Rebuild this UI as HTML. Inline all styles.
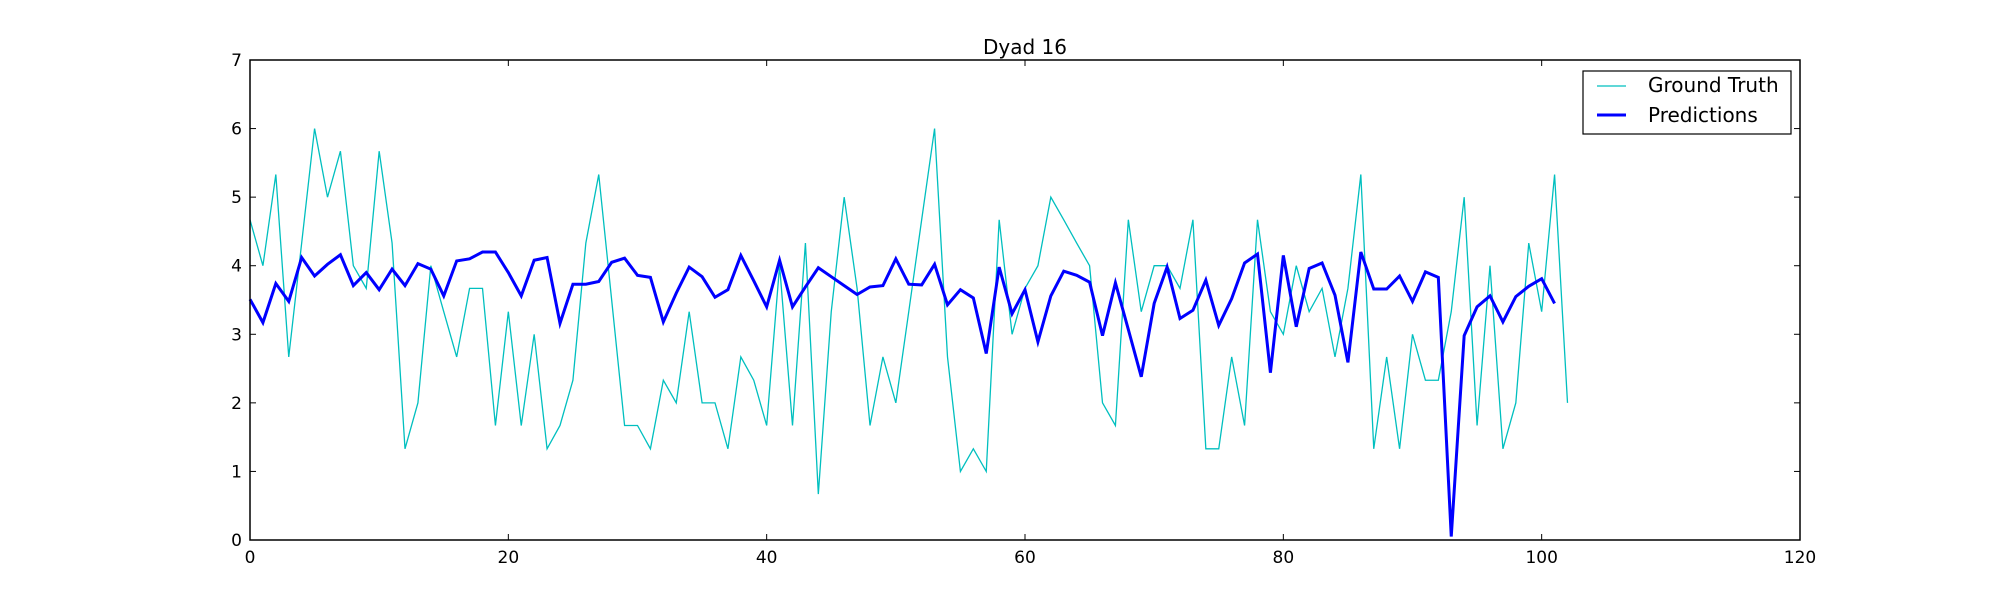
<!DOCTYPE html>
<html><head><meta charset="utf-8"><style>
body{margin:0;background:#fff;}
svg{display:block;font-family:"DejaVu Sans","Liberation Sans",sans-serif;}
</style></head><body>
<svg id="chart" width="2000" height="600" viewBox="0 0 2000 600">
<rect width="2000" height="600" fill="#fff"/>
<text x="1025" y="54" font-size="20" text-anchor="middle">Dyad 16</text>
<g id="ticks"></g>
<g id="series"></g>
<rect x="250" y="60" width="1550" height="480" fill="none" stroke="#000" stroke-width="1.5"/>
<g>
<rect x="1583" y="71" width="208" height="63" fill="#fff" stroke="#000" stroke-width="1.2"/>
<line x1="1597" y1="86" x2="1626" y2="86" stroke="#00bfbf" stroke-width="1.3"/>
<text x="1648" y="92" font-size="20">Ground Truth</text>
<line x1="1597" y1="115" x2="1626" y2="115" stroke="#0000ff" stroke-width="3"/>
<text x="1648" y="122" font-size="20">Predictions</text>
</g>
</svg>
<script>
const groundTruth = [4.67,4.0,5.33,2.67,4.33,6.0,5.0,5.67,4.0,3.67,5.67,4.33,1.33,2.0,4.0,3.33,2.67,3.67,3.67,1.67,3.33,1.67,3.0,1.33,1.67,2.33,4.33,5.33,3.5,1.67,1.67,1.33,2.33,2.0,3.33,2.0,2.0,1.33,2.67,2.33,1.67,4.0,1.67,4.33,0.67,3.33,5.0,3.67,1.67,2.67,2.0,3.33,4.67,6.0,2.67,1.0,1.33,1.0,4.67,3.0,3.67,4.0,5.0,4.67,4.33,4.0,2.0,1.67,4.67,3.33,4.0,4.0,3.67,4.67,1.33,1.33,2.67,1.67,4.67,3.33,3.0,4.0,3.33,3.67,2.67,3.67,5.33,1.33,2.67,1.33,3.0,2.33,2.33,3.33,5.0,1.67,4.0,1.33,2.0,4.33,3.33,5.33,2.0];
const predictions = [3.51,3.17,3.74,3.48,4.12,3.85,4.02,4.16,3.71,3.9,3.65,3.95,3.71,4.03,3.95,3.56,4.07,4.1,4.2,4.2,3.9,3.56,4.08,4.12,3.16,3.73,3.73,3.77,4.05,4.11,3.86,3.83,3.18,3.6,3.98,3.84,3.54,3.65,4.15,3.78,3.4,4.08,3.4,3.69,3.97,3.84,3.71,3.58,3.69,3.71,4.1,3.73,3.72,4.02,3.43,3.65,3.53,2.72,3.98,3.3,3.65,2.89,3.56,3.92,3.86,3.76,2.98,3.75,3.07,2.38,3.45,3.98,3.23,3.35,3.79,3.13,3.52,4.04,4.17,2.44,4.15,3.11,3.96,4.04,3.57,2.59,4.2,3.66,3.66,3.85,3.48,3.91,3.83,0.05,2.98,3.4,3.56,3.18,3.55,3.7,3.81,3.45];
const xTicks = [0,20,40,60,80,100,120];
const yTicks = [0,1,2,3,4,5,6,7];

const X0=250,X1=1800,Y0=540,Y1=60;
function xs(v){return X0+(v-0)/(120-0)*(X1-X0);}
function ys(v){return Y0-(v-0)/(7-0)*(Y0-Y1);}
const NS="http://www.w3.org/2000/svg";
const tg=document.getElementById('ticks');
function mk(tag,attrs,parent){const e=document.createElementNS(NS,tag);for(const k in attrs)e.setAttribute(k,attrs[k]);parent.appendChild(e);return e;}
xTicks.forEach(t=>{
  const x=xs(t);
  const a=mk('line',{x1:x,y1:Y0,x2:x,y2:Y0-6,stroke:'#000','stroke-width':1},tg);
  
  
  const b=mk('line',{x1:x,y1:Y1,x2:x,y2:Y1+6,stroke:'#000','stroke-width':1},tg);
  
  
  const l=mk('text',{x:x,y:Y0+23,'font-size':17,'text-anchor':'middle'},tg);
  l.textContent=t;
  
  
});
yTicks.forEach(t=>{
  const y=ys(t);
  const a=mk('line',{x1:X0,y1:y,x2:X0+6,y2:y,stroke:'#000','stroke-width':1},tg);
  
  
  const b=mk('line',{x1:X1,y1:y,x2:X1-6,y2:y,stroke:'#000','stroke-width':1},tg);
  
  
  const l=mk('text',{x:X0-8,y:y+6,'font-size':17,'text-anchor':'end'},tg);
  l.textContent=t;
  
  
});
const sg=document.getElementById('series');
function pts(arr){return arr.map((v,i)=>xs(i).toFixed(2)+','+ys(v).toFixed(2)).join(' ');}
const g=mk('polyline',{points:pts(groundTruth),fill:'none',stroke:'#00bfbf','stroke-width':1.3,'stroke-linejoin':'miter'},sg);


const p=mk('polyline',{points:pts(predictions),fill:'none',stroke:'#0000ff','stroke-width':3,'stroke-linejoin':'miter'},sg);


</script>
</body></html>
